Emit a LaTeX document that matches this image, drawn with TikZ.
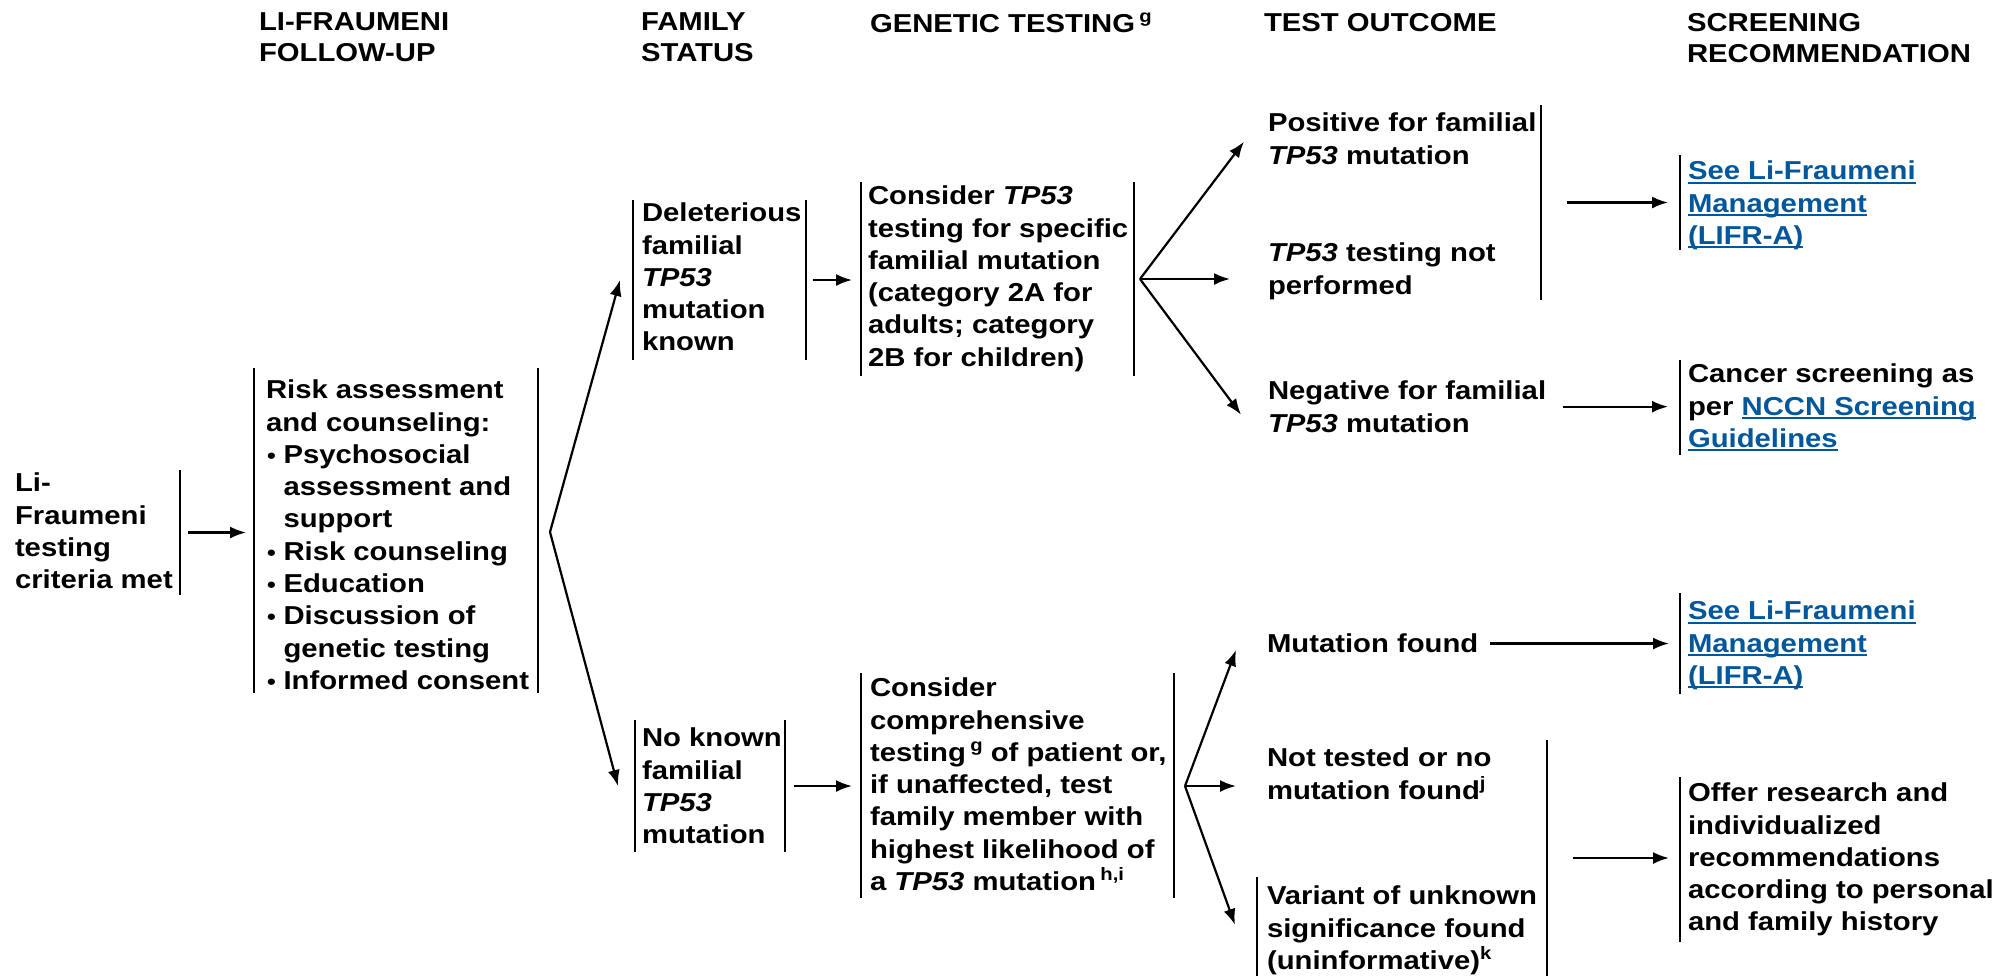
\documentclass[tikz,border=0pt]{standalone}
\usepackage{fontspec}
\setmainfont{Liberation Sans}[FakeStretch=1.13]
\usetikzlibrary{arrows.meta}
\definecolor{linkblue}{RGB}{0,87,155}
\newcommand\bul{\makebox[8.75bp][l]{\hspace{0.5bp}\scalebox{0.85}{\textbullet}}}
\newcommand\bulind{\hspace*{8.75bp}}
\newcommand\lnk[1]{{\color{linkblue}\setbox0\hbox{#1}\rlap{\rule[-1.9bp]{\wd0}{0.9bp}}\box0}}
\newcommand\sups[1]{\raisebox{5bp}{\fontsize{9}{9}\selectfont #1}}
\begin{document}
\begin{tikzpicture}[>={Latex[length=8bp,width=6bp]},line join=bevel,x=0.5bp,y=-0.5bp,line width=1.1bp,
  txt/.style={anchor=north west,inner sep=0pt,outer sep=0pt,align=left,font=\fontsize{13}{16.2}\selectfont\bfseries},
  head/.style={txt,font=\fontsize{13}{15.6}\selectfont\bfseries},
  ]
%%
\fill [white] (0,0) rectangle (2007,976);
% column heads
\node (head_0) at (259,13) [head] {LI-FRAUMENI\\FOLLOW-UP};
\node (head_1) at (641,13) [head] {FAMILY\\STATUS};
\node (head_2) at (870,13) [head] {GENETIC TESTING\,\sups{g}};
\node (head_3) at (1264,13) [head] {TEST OUTCOME};
\node (head_4) at (1687,13) [head] {SCREENING\\RECOMMENDATION};
%
\node (node_0) at (15,473) [txt] {Li-\\Fraumeni\\testing\\criteria met};
\node (node_1) at (266,380) [txt] {Risk assessment\\and counseling:\\\bul Psychosocial\\\bulind assessment and\\\bulind support\\\bul Risk counseling\\\bul Education\\\bul Discussion of\\\bulind genetic testing\\\bul Informed consent};
\node (node_2) at (642,203) [txt] {Deleterious\\familial\\\textit{TP53}\\mutation\\known};
\node (node_3) at (868,186) [txt] {Consider \textit{TP53}\\testing for specific\\familial mutation\\(category 2A for\\adults; category\\2B for children)};
\node (node_4) at (1268,113) [txt] {Positive for familial\\\textit{TP53} mutation};
\node (node_5) at (1268,243) [txt] {\textit{TP53} testing not\\performed};
\node (node_6) at (1268,381) [txt] {Negative for familial\\\textit{TP53} mutation};
\node (node_7) at (1688,161) [txt] {\lnk{See Li-Fraumeni}\\\lnk{Management}\\\lnk{(LIFR-A)}};
\node (node_8) at (1688,364) [txt] {Cancer screening as\\per \lnk{NCCN Screening}\\\lnk{Guidelines}};
\node (node_9) at (642,728) [txt] {No known\\familial\\\textit{TP53}\\mutation};
\node (node_10) at (870,678) [txt] {Consider\\comprehensive\\testing\,\sups{g} of patient or,\\if unaffected, test\\family member with\\highest likelihood of\\a \textit{TP53} mutation\,\sups{h,i}};
\node (node_11) at (1267,634) [txt] {Mutation found};
\node (node_12) at (1267,748) [txt] {Not tested or no\\mutation found\sups{j}};
\node (node_13) at (1267,886) [txt] {Variant of unknown\\significance found\\(uninformative)\sups{k}};
\node (node_14) at (1688,601) [txt] {\lnk{See Li-Fraumeni}\\\lnk{Management}\\\lnk{(LIFR-A)}};
\node (node_15) at (1688,783) [txt] {Offer research and\\individualized\\recommendations\\according to personal\\and family history};
% side bars
\draw [black] (180,470) -- coordinate (bar_0) (180,595);
\draw [black] (254,368) -- coordinate (bar_1) (254,693);
\draw [black] (538,368) -- coordinate (bar_2) (538,693);
\draw [black] (633,200) -- coordinate (bar_3) (633,360);
\draw [black] (806,200) -- coordinate (bar_4) (806,360);
\draw [black] (861,182) -- coordinate (bar_5) (861,376);
\draw [black] (1134,182) -- coordinate (bar_6) (1134,376);
\draw [black] (1541,105) -- coordinate (bar_7) (1541,300);
\draw [black] (1680,155) -- coordinate (bar_8) (1680,250);
\draw [black] (1680,360) -- coordinate (bar_9) (1680,455);
\draw [black] (635,720) -- coordinate (bar_10) (635,852);
\draw [black] (785,720) -- coordinate (bar_11) (785,852);
\draw [black] (861,673) -- coordinate (bar_12) (861,898);
\draw [black] (1174,673) -- coordinate (bar_13) (1174,898);
\draw [black] (1547,740) -- coordinate (bar_14) (1547,976);
\draw [black] (1257,877) -- coordinate (bar_15) (1257,976);
\draw [black] (1680,593) -- coordinate (bar_16) (1680,694);
\draw [black] (1680,777) -- coordinate (bar_17) (1680,942);
% forks
\coordinate (fork_0) at (550,532);
\coordinate (fork_1) at (1140,279);
\coordinate (fork_2) at (1185,786);
% arrows
\draw [black,->,shorten <=4bp,shorten >=4bp] (bar_0) -- (bar_0 -| bar_1);
\draw [black,->] (fork_0) -- ([xshift=-6.5bp]bar_3);
\draw [black,->] (fork_0) -- ([xshift=-8.5bp]bar_10);
\draw [black,->,shorten <=3.5bp,shorten >=4.5bp] (bar_4) -- (bar_4 -| bar_5);
\draw [black,->] (fork_1) -- ([shift={(-24,3)}]node_4.west);
\draw [black,->,shorten >=19bp] (fork_1) -- (fork_1 -| node_5.west);
\draw [black,->] (fork_1) -- ([shift={(-27,8)}]node_6.west);
\draw [black,->,shorten <=13bp,shorten >=6bp] (bar_7) -- (bar_7 -| bar_8);
\draw [black,->,shorten <=8.5bp,shorten >=6bp] (node_6.east) -- (node_6.east -| bar_9);
\draw [black,->,shorten <=4.5bp,shorten >=4.5bp] (bar_11) -- (bar_11 -| bar_12);
\draw [black,->] (fork_2) -- ([shift={(-31,6.5)}]node_11.west);
\draw [black,->,shorten >=15.5bp] (fork_2) -- (fork_2 -| node_12.west);
\draw [black,->] (fork_2) -- ([shift={(-32,-5.5)}]node_13.west);
\draw [black,->,shorten <=6bp,shorten >=5.5bp] (node_11.east) -- (node_11.east -| bar_16);
\draw [black,->,shorten <=13bp,shorten >=5.5bp] (bar_14) -- (bar_14 -| bar_17);
%
\end{tikzpicture}
\end{document}
